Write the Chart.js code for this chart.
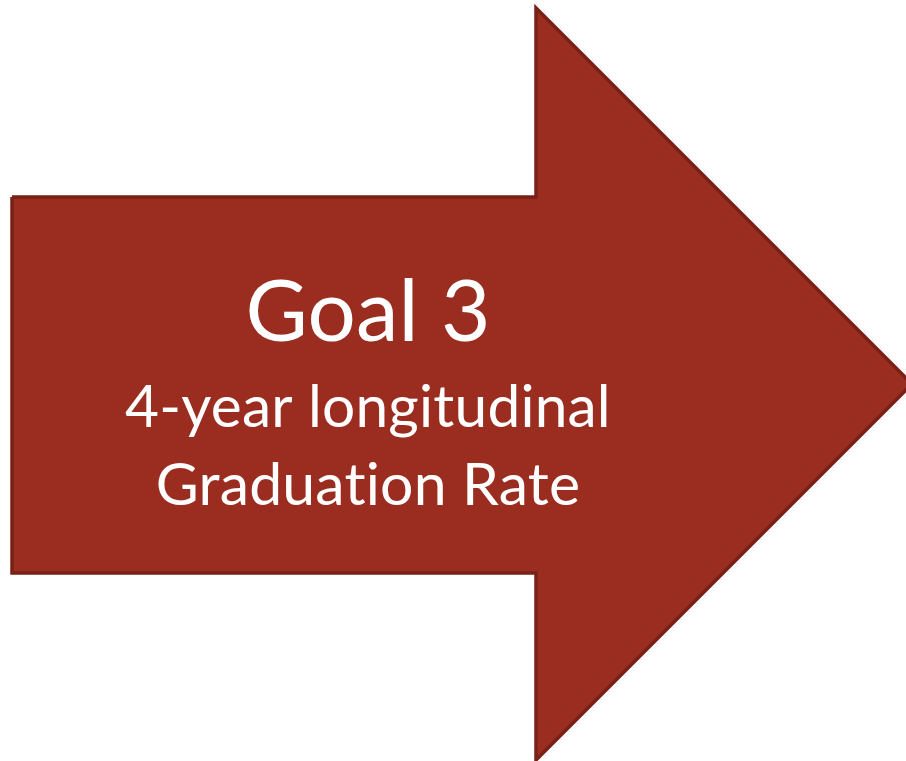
<!DOCTYPE html>
<html><head><meta charset="utf-8">
<script src="https://cdn.jsdelivr.net/npm/chart.js@4"></script>
<style>html,body{margin:0;padding:0;background:#fff;overflow:hidden}</style>
</head><body>
<canvas id="c" width="906" height="761"></canvas>
<script>
// Arrow outline vertices (in picture units)
const arrowX = [12, 536, 536, 912, 536, 536, 12, 12];
const arrowY = [197, 197, 8, 384, 760, 573, 573, 197];
// Text lines
const textLines = ["Goal 3", "4-year longitudinal", "Graduation Rate"];
const textBaselines = [341, 427, 505];
const textWidths = [245, 484, 423];
const textCenterX = 368;

const points = arrowX.map((x, i) => ({x: x, y: arrowY[i]}));

const textPlugin = {
  id: 'arrowText',
  afterDatasetsDraw(chart) {
    const ctx = chart.ctx, xs = chart.scales.x, ys = chart.scales.y;
    ctx.save();
    ctx.fillStyle = '#ffffff';
    ctx.textAlign = 'center';
    ctx.textBaseline = 'alphabetic';
    if ('letterSpacing' in ctx) ctx.letterSpacing = '0.2px';
    textLines.forEach((t, i) => {
      const targetW = xs.getPixelForValue(textWidths[i]) - xs.getPixelForValue(0);
      ctx.font = '100px Lato';
      const w = ctx.measureText(t).width;
      const size = 100 * targetW / w;
      ctx.font = size.toFixed(1) + 'px Lato';
      ctx.fillText(t, xs.getPixelForValue(textCenterX), ys.getPixelForValue(textBaselines[i]));
    });
    ctx.restore();
  }
};

new Chart(document.getElementById('c'), {
  type: 'scatter',
  data: {
    datasets: [{
      data: points,
      showLine: true,
      tension: 0,
      fill: 'shape',
      backgroundColor: '#9b2d20',
      borderColor: '#782116',
      borderWidth: 3.5,
      borderJoinStyle: 'miter',
      pointRadius: 0,
      pointHoverRadius: 0,
      clip: false
    }]
  },
  options: {
    responsive: false,
    animation: false,
    events: [],
    layout: {padding: 0},
    plugins: {legend: {display: false}, tooltip: {enabled: false}, title: {display: false}},
    scales: {
      x: {type: 'linear', min: 0, max: 906, display: false},
      y: {type: 'linear', min: 0, max: 761, reverse: true, display: false}
    }
  },
  plugins: [textPlugin]
});
</script>
</body></html>
